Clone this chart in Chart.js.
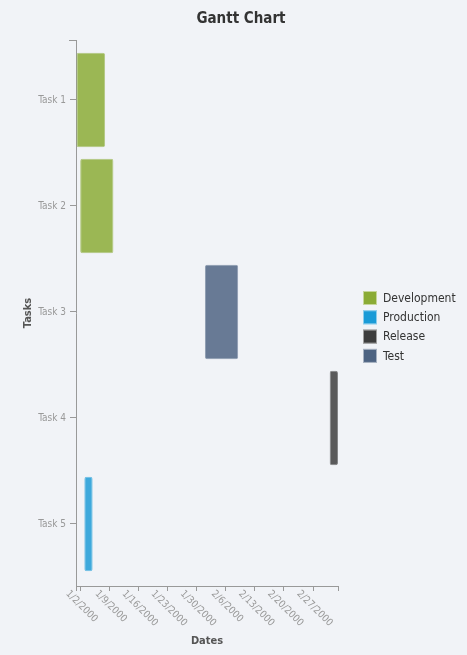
<!DOCTYPE html>
<html>
<head>
<meta charset="utf-8">
<script src="https://cdn.jsdelivr.net/npm/chart.js@4/dist/chart.umd.min.js"></script>
<style>
  html, body { margin: 0; padding: 0; background: #f1f3f7; }
  #wrap { width: 467px; height: 655px; }
</style>
</head>
<body>
<div id="wrap"><canvas id="gantt" width="467" height="655"></canvas></div>
<script>
// ── Data ──────────────────────────────────────────────────────────────────

const tasks      = ["Task 1", "Task 2", "Task 3", "Task 4", "Task 5"];
const phases     = ["Development", "Production", "Release", "Test"];
const taskPhase  = ["Development", "Development", "Test", "Release", "Production"];
const taskStart  = ["1/1/2000", "1/2/2000", "2/1/2000", "3/2/2000", "1/3/2000"];
const taskEnd    = ["1/8/2000", "1/10/2000", "2/9/2000", "3/4/2000", "1/5/2000"];
const tickLabels = ["1/2/2000", "1/9/2000", "1/16/2000", "1/23/2000", "1/30/2000",
                    "2/6/2000", "2/13/2000", "2/20/2000", "2/27/2000"];
const axisStart  = "1/1/2000";
const axisEnd    = "3/4/2000";

const phaseColors = {
  Development: "#8aab35",
  Production:  "#1b9bd7",
  Release:     "#3d3d3d",
  Test:        "#4d6382",
};

const FONT = "'DejaVu Sans Condensed', Tahoma, 'DejaVu Sans', sans-serif";

// days since axisStart
function day(s) {
  const [m, d, y] = s.split("/").map(Number);
  const [m0, d0, y0] = axisStart.split("/").map(Number);
  return (Date.UTC(y, m - 1, d) - Date.UTC(y0, m0 - 1, d0)) / 864e5;
}

function hexA(hex, a) {
  const n = parseInt(hex.slice(1), 16);
  return `rgba(${n >> 16},${(n >> 8) & 255},${n & 255},${a})`;
}

const datasets = phases.map(p => ({
  label: p,
  data: tasks.map((t, i) => taskPhase[i] === p ? [day(taskStart[i]), day(taskEnd[i])] : null),
  backgroundColor: hexA(phaseColors[p], 0.84),
  borderColor: hexA(phaseColors[p], 0.6),
  borderWidth: 1,
  borderRadius: 2,
  borderSkipped: false,
}));

// ── Decorations: title, legend, rotated date labels ───────────────────────

const decor = {
  id: "decor",
  afterDraw(chart) {
    const { ctx, chartArea } = chart;
    const xs = chart.scales.x;
    ctx.save();

    // title
    ctx.fillStyle = "#333";
    ctx.font = `bold 15px ${FONT}`;
    ctx.textAlign = "center";
    ctx.textBaseline = "middle";
    ctx.fillText("Gantt Chart", 241, 19);

    // top tick of y axis
    ctx.strokeStyle = "#999";
    ctx.lineWidth = 1;
    ctx.beginPath();
    ctx.moveTo(chartArea.left - 7, chartArea.top + 0.5);
    ctx.lineTo(chartArea.left, chartArea.top + 0.5);
    ctx.stroke();

    // date labels, rotated 45° clockwise
    ctx.font = `10px ${FONT}`;
    ctx.fillStyle = "#999";
    tickLabels.forEach(lbl => {
      const x = xs.getPixelForValue(day(lbl)) + 1.5;
      const w = ctx.measureText(lbl).width;
      const cy = chartArea.bottom + 3 + (w + 9) * 0.3536;
      ctx.save();
      ctx.translate(x, cy);
      ctx.rotate(Math.PI / 4);
      ctx.fillText(lbl, 0, 0);
      ctx.restore();
    });

    // legend
    ctx.font = `12px ${FONT}`;
    ctx.textAlign = "left";
    phases.forEach((p, i) => {
      const y = 291 + i * 19.3;
      ctx.fillStyle = phaseColors[p];
      ctx.fillRect(363, y, 14, 14);
      ctx.strokeStyle = "rgba(255,255,255,0.5)";
      ctx.strokeRect(363.5, y + 0.5, 13, 13);
      ctx.fillStyle = "#333";
      ctx.fillText(p, 383, y + 7.5);
    });

    ctx.restore();
  },
};

// ── Chart ─────────────────────────────────────────────────────────────────

new Chart(document.getElementById("gantt"), {
  type: "bar",
  data: { labels: tasks, datasets },
  options: {
    indexAxis: "y",
    responsive: false,
    animation: false,
    layout: { padding: { top: 40, right: 129, bottom: 0, left: 0 } },
    datasets: { bar: { grouped: false, categoryPercentage: 0.89, barPercentage: 1 } },
    plugins: {
      legend: { display: false },
      title: { display: false },
      tooltip: { enabled: false },
    },
    scales: {
      x: {
        type: "linear",
        min: day(axisStart),
        max: day(axisEnd),
        afterBuildTicks: s => {
          s.ticks = [day(axisStart), ...tickLabels.map(day), day(axisEnd)].map(v => ({ value: v }));
        },
        afterFit: s => { s.height = 69; },
        grid: { drawOnChartArea: false, color: "#999", tickLength: 5 },
        border: { color: "#999" },
        ticks: { display: false },
        title: {
          display: true, text: "Dates", color: "#555",
          font: { family: FONT, size: 11, weight: "bold" },
          padding: { top: 0, bottom: 7 },
        },
      },
      y: {
        // a little empty room above the first task and below the last one
        afterBuildTicks: s => {
          s._startValue = -0.566;
          s._valueRange = tasks.length + 0.151;
        },
        afterFit: s => { s.width = 76; },
        grid: { drawOnChartArea: false, offset: false, color: "#999", tickLength: 6 },
        border: { color: "#999" },
        ticks: { color: "#999", padding: 4, font: { family: FONT, size: 10 } },
        title: {
          display: true, text: "Tasks", color: "#555",
          font: { family: FONT, size: 11, weight: "bold" },
          padding: { top: 22, bottom: 0 },
        },
      },
    },
  },
  plugins: [decor],
});
</script>
</body>
</html>
